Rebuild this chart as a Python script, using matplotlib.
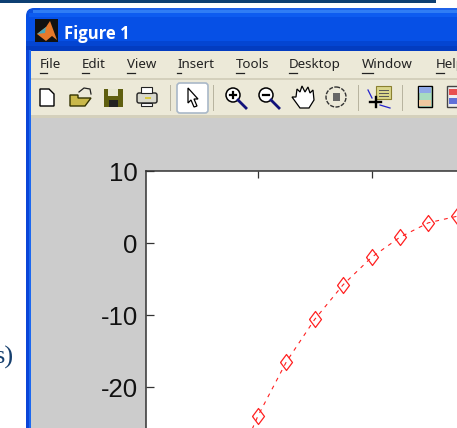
import matplotlib
matplotlib.use("Agg")
import matplotlib.pyplot as plt
from matplotlib.patches import Rectangle, FancyBboxPatch, Circle, Polygon

plt.rcParams["axes.unicode_minus"] = False

W = 457
H = 428

# values
x_vals = [0.75, 1.0, 1.25, 1.5, 1.75, 2.0, 2.25, 2.5, 2.75]
y_vals = [-33.0, -24.0, -16.5, -10.6, -5.8, -2.0, 0.8, 2.8, 3.7]
y_ticks = [10, 0, -10, -20]
x_ticks = [1, 2]
menu_labels = ["File", "Edit", "View", "Insert", "Tools", "Desktop", "Window", "Help"]
menu_pos = [40, 82, 127, 177, 236, 289, 362, 436]
underline_w = [7, 7, 8, 4, 8, 8, 11, 8]

fig = plt.figure(figsize=(W / 100, H / 100), dpi=100, facecolor="white")

# window chrome, drawn in pixel coords
bg = fig.add_axes([0, 0, 1, 1], zorder=0)
bg.set_xlim(0, W)
bg.set_ylim(H, 0)
bg.axis("off")


def rect(x, y, w, h, color, z=1):
    bg.add_patch(Rectangle((x, y), w, h, facecolor=color, edgecolor="none", zorder=z))


rect(0, 0, 436, 2.5, "#0d3f73")
bg.add_patch(FancyBboxPatch((34, 16), 460, 500, boxstyle="round,pad=8,rounding_size=8",
                            facecolor="#0a50e0", edgecolor="none", zorder=1))
# title bar shading
rect(40, 8, 430, 2, "#1f62e8", 2)
rect(33, 10, 430, 3, "#2f7df5", 2)
rect(29, 13, 430, 4, "#0d5cf0", 2)
rect(26, 17, 431, 24, "#0650e6", 2)
rect(26, 41, 431, 5, "#0445d2", 2)
rect(26, 46, 431, 5, "#033cc0", 2)
rect(31, 51, 430, 28, "#ece9d8", 3)
rect(31, 79, 430, 37, "#ece9d8", 3)
rect(31, 78, 430, 2, "#d4d0bc", 3)
rect(31, 115, 430, 2.5, "#d4d0bc", 3)
rect(31, 117.5, 430, 320, "#cccccc", 3)
rect(26, 50, 3, 380, "#0a45d8", 2)
rect(29, 50, 2, 380, "#1c68f0", 2)

# matlab logo
rect(35, 19, 23, 23, "#111111", 3)
bg.add_patch(Polygon([(37, 34), (46, 27), (50, 21), (57, 40), (52, 36), (46, 41)],
                     facecolor="#e8792a", edgecolor="none", zorder=4))
bg.add_patch(Polygon([(37, 34), (46, 27), (45, 33)], facecolor="#49a6b8", edgecolor="none", zorder=5))
bg.text(64, 33.5, "Figure 1", color="white", fontsize=12, fontweight="bold",
        family="Open Sans", va="center", ha="left", zorder=5)

for lab, px, uw in zip(menu_labels, menu_pos, underline_w):
    bg.text(px, 64, lab, color="#222222", fontsize=9.6, family="Noto Sans",
            va="center", ha="left", zorder=5)
    # first letter underline
    bg.plot([px, px + uw], [73, 73], color="#222222", lw=0.9, zorder=5)

# toolbar icons
bg.add_patch(Polygon([(40, 89), (49, 89), (54, 94), (54, 106), (40, 106)], facecolor="white",
                     edgecolor="black", lw=1, zorder=4))
bg.add_patch(Polygon([(70, 106), (70, 95), (78, 95), (78, 98), (91, 98), (85, 106)],
                     facecolor="#c9b84a", edgecolor="#333300", lw=1, zorder=4))
bg.plot([79, 84, 90, 91], [92, 88, 89, 94], color="#222222", lw=0.9, zorder=5)
rect(104, 89, 19, 18, "#5f5f10", 4)
rect(108, 89, 10, 7, "#e6e6d0", 5)
rect(109, 100, 9, 7, "#222222", 5)
bg.add_patch(FancyBboxPatch((137, 93), 20, 10, boxstyle="round,pad=0,rounding_size=2", facecolor="#d8d8cc",
                            edgecolor="#222222", lw=1, zorder=4))
bg.add_patch(Rectangle((141, 87), 11, 6, facecolor="white", edgecolor="#222222", lw=0.8, zorder=5))
bg.add_patch(Rectangle((141, 103), 11, 3, facecolor="white", edgecolor="#222222", lw=0.8, zorder=5))
rect(145, 97, 6, 2, "#d8c840", 6)
bg.add_patch(FancyBboxPatch((177, 83), 31, 30, boxstyle="round,pad=0,rounding_size=3", facecolor="white",
                            edgecolor="#a9b8c8", lw=1.2, zorder=4))
bg.add_patch(Polygon([(188, 88), (188, 103), (191, 100), (194, 107), (197, 106), (194, 99), (198, 99)],
                     facecolor="white", edgecolor="black", lw=0.9, zorder=5))


def lens(cx, cy, plus):
    bg.add_patch(Circle((cx, cy), 7, facecolor="white", edgecolor="black", lw=1.1, zorder=4))
    bg.plot([cx + 5, cx + 13], [cy + 5, cy + 13], color="#12127a", lw=2, zorder=4)
    bg.plot([cx - 3, cx + 3], [cy, cy], color="black", lw=1.6, zorder=5)
    if plus:
        bg.plot([cx, cx], [cy - 3, cy + 3], color="black", lw=1.6, zorder=5)


lens(233, 95, True)
lens(266, 95, False)
bg.add_patch(Polygon([(292, 97), (296, 97), (297, 89), (300, 92), (302, 86), (305, 92), (308, 87), (310, 93),
                      (313, 90), (314, 100), (309, 108), (300, 108)], facecolor="white", edgecolor="black",
                     lw=0.9, zorder=4))
bg.add_patch(Circle((336, 97), 10, facecolor="none", edgecolor="#333333", lw=1, ls=(0, (3, 1)), zorder=4))
rect(333, 93, 7, 8, "#666666", 5)
bg.add_patch(Rectangle((376, 86), 15, 13, facecolor="#d9d58a", edgecolor="#8a8030", lw=0.8, zorder=4))
bg.plot([379, 388, None, 379, 388, None, 379, 388], [90, 90, None, 93, 93, None, 96, 96], color="#555555",
        lw=0.7, zorder=5)
bg.plot([368, 372, None, 380, 390], [90, 98, None, 105, 108], color="#2222cc", lw=0.9, zorder=5)
bg.plot([370, 381, None, 375.5, 375.5], [102, 102, None, 97, 107], color="black", lw=1.7, zorder=5)
bg.add_patch(Rectangle((418, 86), 14, 21, facecolor="#a8dcc0", edgecolor="black", lw=1, zorder=4))
rect(419, 87, 12, 6, "#8fa8e8", 5)
rect(419, 100, 12, 6, "#f0c8a0", 5)
bg.add_patch(Rectangle((447, 86), 14, 21, facecolor="#eeeeee", edgecolor="#444444", lw=1, zorder=4))
rect(449, 89, 8, 6, "#e85050", 5)
rect(449, 98, 8, 6, "#6070d8", 5)
for sep in [170, 213, 358, 402]:
    rect(sep, 85, 1.2, 26, "#b8b4a0", 4)

# clipped word from the page behind
bg.text(14, 357, "s)", color="#17406f", fontsize=19, family="Liberation Serif", va="center",
        ha="right", zorder=5)

# plot axes, runs off the right and bottom of the crop
x0, x1 = 146, 620
y0, y1 = 171, 531
ax = fig.add_axes([x0 / W, 1 - y1 / H, (x1 - x0) / W, (y1 - y0) / H], zorder=2)
ax.set_facecolor("white")
ax.plot(x_vals, y_vals, color="#ff2020", lw=0.8, dashes=(3.5, 4.5),
        marker=[(-6, 0), (0, 8), (6, 0), (0, -8), (-6, 0)], ms=11.5, mfc="none", mew=0.9)
ax.set_xlim(1 - (258 - x0) / 113.5, 1 + (x1 - 258) / 113.5)
ax.set_ylim(10 - (y1 - y0) / 7.2, 10)
ax.set_yticks(y_ticks)
ax.set_xticks(x_ticks)
ax.tick_params(axis="x", direction="in", top=True, bottom=False, labelbottom=False, length=5, width=0.9,
               color="#333333")
ax.tick_params(axis="y", direction="in", length=6, width=0.9, color="#333333", pad=6, labelsize=18.5)
for lab in ax.get_yticklabels():
    lab.set_family("Liberation Sans")
    lab.set_color("#111111")
for s in ax.spines.values():
    s.set_color("#333333")
    s.set_linewidth(1.1)

fig.savefig("out.png", dpi=100)
